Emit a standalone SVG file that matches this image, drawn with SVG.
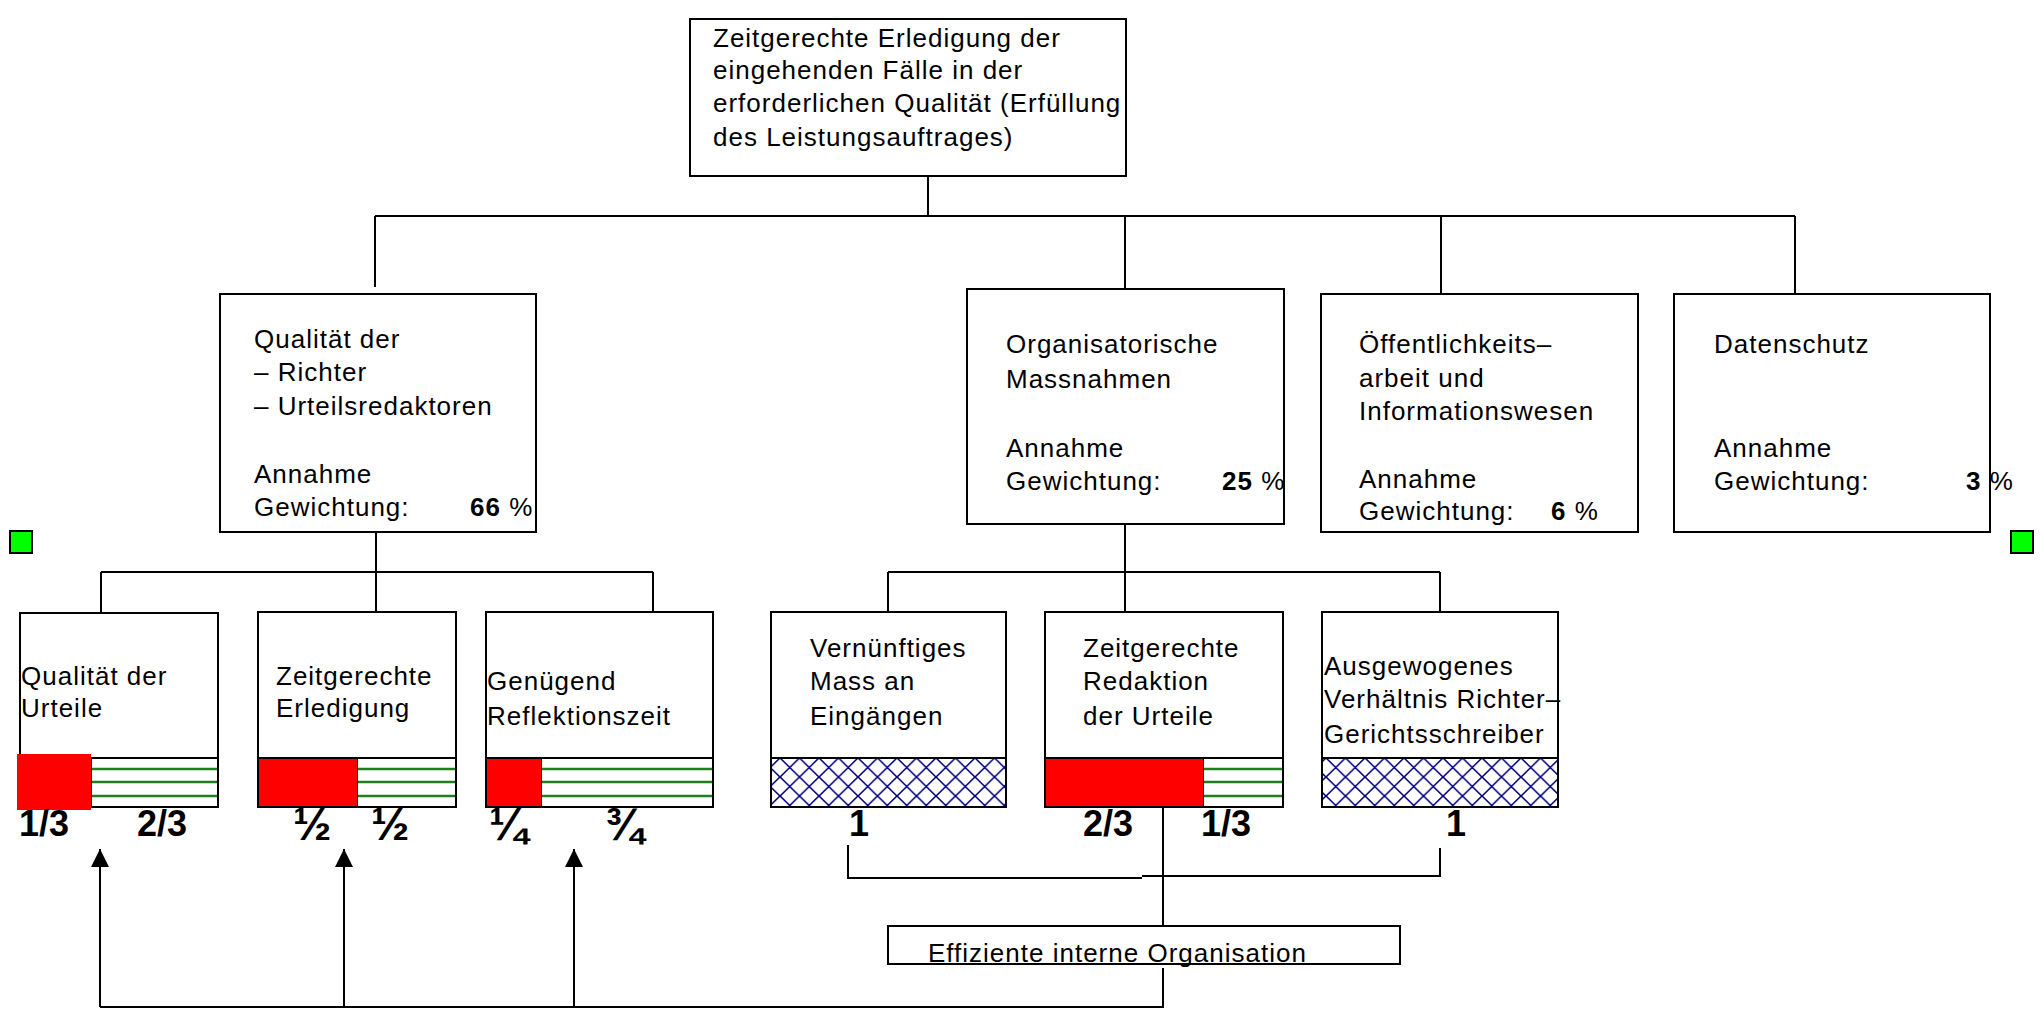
<svg xmlns="http://www.w3.org/2000/svg" width="2042" height="1011" viewBox="0 0 2042 1011">
<style>
.box{fill:#fff;stroke:#000;stroke-width:2}
.ln{fill:none;stroke:#000;stroke-width:2}
.t{font-family:"Liberation Sans",Arial,sans-serif;font-size:26px;letter-spacing:1px;fill:#000}
.b{font-weight:bold}
.fr{font-family:"Liberation Sans",Arial,sans-serif;font-size:36px;font-weight:bold;fill:#000}
.fq{font-family:"Liberation Sans",Arial,sans-serif;font-size:46px;font-weight:bold;fill:#000}
.red{fill:#ff0000;stroke:none}
.gr{stroke:#1f7f1f;stroke-width:2.5}
.hatch{fill:url(#xh);stroke:#000;stroke-width:2}
.sq{fill:#00ff00;stroke:#000;stroke-width:2}
</style>
<defs>
<pattern id="xh" patternUnits="userSpaceOnUse" width="19.5" height="19" x="0" y="758">
<rect width="19.5" height="19" fill="#fff"/>
<path d="M0 0L19.5 19M19.5 0L0 19" stroke="#000080" stroke-width="1.6"/>
</pattern>
<marker id="ah" markerUnits="userSpaceOnUse" markerWidth="20" markerHeight="20" refX="19" refY="10" orient="auto" viewBox="0 0 20 20">
<path d="M19 10L1 1L1 19Z" fill="#000"/>
</marker>
</defs>

<g id="connectors">
<path class="ln" d="M928 176V216M375 216H1795M375 216V287M1125 216V296M1441 216V294M1795 216V294"/>
<path class="ln" d="M376 523V618M101 572H653M101 572V613M653 572V612"/>
<path class="ln" d="M1125 524V612M888 572H1440M888 572V612M1440 572V612"/>
<path class="ln" d="M848 845V878H1142M1142 876H1440V848"/>
<path class="ln" d="M1163 808V926M1163 968V1007H100"/>
<path class="ln" d="M100 1007V849" marker-end="url(#ah)"/>
<path class="ln" d="M344 1007V849" marker-end="url(#ah)"/>
<path class="ln" d="M574 1007V849" marker-end="url(#ah)"/>
</g>

<g id="marker-left"><rect class="sq" x="10" y="531" width="22" height="22"/></g>
<g id="marker-right"><rect class="sq" x="2011" y="531" width="22" height="22"/></g>

<g id="n-top">
<rect class="box" x="690" y="19" width="436" height="157"/>
<text class="t" x="713" y="47">Zeitgerechte Erledigung der</text>
<text class="t" x="713" y="79">eingehenden Fälle in der</text>
<text class="t" x="713" y="112">erforderlichen Qualität (Erfüllung</text>
<text class="t" x="713" y="146">des Leistungsauftrages)</text>
</g>

<g id="n-qualitaet">
<rect class="box" x="220" y="294" width="316" height="238"/>
<text class="t" x="254" y="348">Qualität der</text>
<text class="t" x="254" y="381">– Richter</text>
<text class="t" x="254" y="415">– Urteilsredaktoren</text>
<text class="t" x="254" y="483">Annahme</text>
<text class="t" x="254" y="516">Gewichtung:</text>
<text class="t" x="470" y="516"><tspan class="b">66</tspan> %</text>
</g>

<g id="n-organisation">
<rect class="box" x="967" y="289" width="317" height="235"/>
<text class="t" x="1006" y="353">Organisatorische</text>
<text class="t" x="1006" y="388">Massnahmen</text>
<text class="t" x="1006" y="457">Annahme</text>
<text class="t" x="1006" y="490">Gewichtung:</text>
<text class="t" x="1222" y="490"><tspan class="b">25</tspan> %</text>
</g>

<g id="n-oeffentlichkeit">
<rect class="box" x="1321" y="294" width="317" height="238"/>
<text class="t" x="1359" y="353">Öffentlichkeits–</text>
<text class="t" x="1359" y="387">arbeit und</text>
<text class="t" x="1359" y="420">Informationswesen</text>
<text class="t" x="1359" y="488">Annahme</text>
<text class="t" x="1359" y="520">Gewichtung:</text>
<text class="t" x="1551" y="520"><tspan class="b">6</tspan> %</text>
</g>

<g id="n-datenschutz">
<rect class="box" x="1674" y="294" width="316" height="238"/>
<text class="t" x="1714" y="353">Datenschutz</text>
<text class="t" x="1714" y="457">Annahme</text>
<text class="t" x="1714" y="490">Gewichtung:</text>
<text class="t" x="1966" y="490"><tspan class="b">3</tspan> %</text>
</g>

<g id="n-urteile">
<rect class="box" x="20" y="613" width="198" height="194"/>
<text class="t" x="21" y="685">Qualität der</text>
<text class="t" x="21" y="717">Urteile</text>
<rect class="box" x="91" y="758" width="127" height="49"/>
<path class="gr" d="M92 769H217M92 782H217M92 796H217"/>
<rect class="red" x="17" y="754" width="74" height="56"/>
<text class="fr" x="19" y="836">1/3</text>
<text class="fr" x="137" y="836">2/3</text>
</g>

<g id="n-erledigung">
<rect class="box" x="258" y="612" width="198" height="195"/>
<text class="t" x="276" y="685">Zeitgerechte</text>
<text class="t" x="276" y="717">Erledigung</text>
<rect class="box" x="357" y="758" width="99" height="49"/>
<path class="gr" d="M358 769H455M358 782H455M358 796H455"/>
<rect class="red" x="259" y="759" width="98" height="47"/>
<path class="ln" d="M258 758H456"/>
<text class="fq" x="293" y="840">½</text>
<text class="fq" x="371" y="840">½</text>
</g>

<g id="n-reflektion">
<rect class="box" x="486" y="612" width="227" height="195"/>
<text class="t" x="487" y="690">Genügend</text>
<text class="t" x="487" y="725">Reflektionszeit</text>
<rect class="box" x="541" y="758" width="172" height="49"/>
<path class="gr" d="M542 769H712M542 782H712M542 796H712"/>
<rect class="red" x="487" y="759" width="54" height="47"/>
<path class="ln" d="M486 758H713"/>
<text class="fq" x="489" y="840">¼</text>
<text class="fq" x="605" y="840">¾</text>
</g>

<g id="n-eingaenge">
<rect class="box" x="771" y="612" width="235" height="195"/>
<text class="t" x="810" y="657">Vernünftiges</text>
<text class="t" x="810" y="690">Mass an</text>
<text class="t" x="810" y="725">Eingängen</text>
<rect class="hatch" x="771" y="758" width="235" height="49"/>
<text class="fr" x="849" y="836">1</text>
</g>

<g id="n-redaktion">
<rect class="box" x="1045" y="612" width="238" height="195"/>
<text class="t" x="1083" y="657">Zeitgerechte</text>
<text class="t" x="1083" y="690">Redaktion</text>
<text class="t" x="1083" y="725">der Urteile</text>
<rect class="box" x="1203" y="758" width="80" height="49"/>
<path class="gr" d="M1204 769H1282M1204 782H1282M1204 796H1282"/>
<rect class="red" x="1046" y="759" width="157" height="47"/>
<path class="ln" d="M1045 758H1283"/>
<text class="fr" x="1083" y="836">2/3</text>
<text class="fr" x="1201" y="836">1/3</text>
</g>

<g id="n-verhaeltnis">
<rect class="box" x="1322" y="612" width="236" height="195"/>
<text class="t" x="1324" y="675">Ausgewogenes</text>
<text class="t" x="1324" y="708">Verhältnis Richter–</text>
<text class="t" x="1324" y="743">Gerichtsschreiber</text>
<rect class="hatch" x="1322" y="758" width="236" height="49"/>
<text class="fr" x="1446" y="836">1</text>
</g>

<g id="n-effizient">
<rect class="box" x="888" y="926" width="512" height="38"/>
<text class="t" x="928" y="962">Effiziente interne Organisation</text>
</g>
</svg>
